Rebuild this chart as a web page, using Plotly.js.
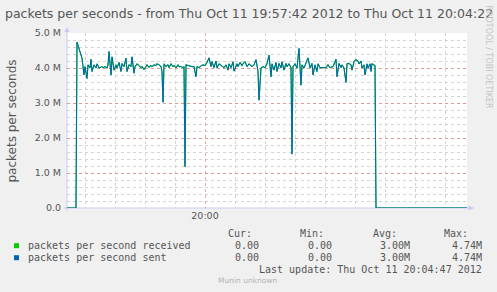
<!DOCTYPE html>
<html>
<head>
<meta charset="utf-8">
<script src="https://cdn.plot.ly/plotly-3.0.1.min.js"></script>
<style>html,body{margin:0;padding:0;background:#f0f0f0;}#chart{width:497px;height:292px;}</style>
</head>
<body>
<div id="chart"></div>
<script>
// ---- data (seconds after 19:57:42, values in millions of packets/s) ----
const seconds = [0,9,10,13,15,17,18,20,21,23,24,25,27,29,30,32,35,36,38,40,41,42,44,45,47,49,50,52,54,55,57,59,60,62,64,65,67,68,70,72,74,75,77,79,80,82,84,85,87,89,90,92,94,95,96,97,99,101,102,104,106,107,109,111,112,114,116,117,118,119,121,123,125,127,129,130,132,134,136,138,140,142,144,145,147,149,150,152,155,157,159,161,162,164,166,167,170,171,173,175,176,178,180,182,185,187,189,191,192,194,196,198,200,202,204,205,207,209,210,212,214,215,217,219,220,222,224,225,226,228,230,232,234,235,237,239,241,243,245,246,248,250,251,253,256,259,261,263,266,267,269,270,272,274,275,277,279,280,282,284,285,287,289,291,292,294,295,297,298,300,301,303,304,305,307,308,309,400];
const received = [0,0,4.74,4.47,4.28,3.80,4.04,3.70,4.09,4.00,4.25,3.90,4.09,4.00,4.12,4.00,4.04,4.01,4.04,4.00,4.09,4.47,3.80,4.32,3.94,4.09,4.00,4.16,3.90,4.13,4.04,4.28,3.90,4.09,4.04,4.32,3.85,4.04,4.12,4.07,4.01,4.04,3.96,4.04,4.09,4.02,4.07,4.04,4.09,4.07,4.12,4.09,4.04,3.90,3.02,4.12,4.04,4.09,4.01,4.12,4.04,4.07,4.01,4.09,4.04,4.04,4.01,4.04,1.18,4.09,4.07,4.04,4.04,4.04,3.75,4.04,4.01,4.06,4.09,4.07,4.16,4.29,4.04,4.18,4.01,4.20,4.00,4.12,4.04,4.01,4.09,3.94,4.12,4.01,4.18,3.91,4.12,4.04,4.16,4.07,4.12,4.18,4.04,4.12,4.04,4.09,4.24,3.90,3.08,4.00,4.04,4.01,4.12,4.37,3.75,4.12,3.94,4.16,3.90,4.13,4.00,4.18,3.94,4.13,4.04,4.12,4.01,1.54,4.04,4.12,4.00,4.56,3.51,4.09,4.00,4.18,4.29,4.00,4.13,3.80,4.09,3.90,4.12,4.01,4.01,4.01,4.09,4.01,4.04,4.13,4.25,3.75,4.13,4.01,4.09,4.00,3.59,4.12,4.13,4.09,3.94,4.18,4.24,4.20,4.12,4.20,4.00,4.09,3.80,4.12,4.00,4.12,3.90,4.12,4.07,4.07,0,0];
const sent = [0,0,4.74,4.47,4.28,3.80,4.04,3.70,4.09,4.00,4.25,3.90,4.09,4.00,4.12,4.00,4.04,4.01,4.04,4.00,4.09,4.47,3.80,4.32,3.94,4.09,4.00,4.16,3.90,4.13,4.04,4.28,3.90,4.09,4.04,4.32,3.85,4.04,4.12,4.07,4.01,4.04,3.96,4.04,4.09,4.02,4.07,4.04,4.09,4.07,4.12,4.09,4.04,3.90,3.02,4.12,4.04,4.09,4.01,4.12,4.04,4.07,4.01,4.09,4.04,4.04,4.01,4.04,1.18,4.09,4.07,4.04,4.04,4.04,3.75,4.04,4.01,4.06,4.09,4.07,4.16,4.29,4.04,4.18,4.01,4.20,4.00,4.12,4.04,4.01,4.09,3.94,4.12,4.01,4.18,3.91,4.12,4.04,4.16,4.07,4.12,4.18,4.04,4.12,4.04,4.09,4.24,3.90,3.08,4.00,4.04,4.01,4.12,4.37,3.75,4.12,3.94,4.16,3.90,4.13,4.00,4.18,3.94,4.13,4.04,4.12,4.01,1.54,4.04,4.12,4.00,4.56,3.51,4.09,4.00,4.18,4.29,4.00,4.13,3.80,4.09,3.90,4.12,4.01,4.01,4.01,4.09,4.01,4.04,4.13,4.25,3.75,4.13,4.01,4.09,4.00,3.59,4.12,4.13,4.09,3.94,4.18,4.24,4.20,4.12,4.20,4.00,4.09,3.80,4.12,4.00,4.12,3.90,4.12,4.07,4.07,0,0];

const seriesNames = ['packets per second received', 'packets per second sent'];
const seriesColors = ['#00cc00', '#0066b3'];
const statHeaders = ['Cur:', 'Min:', 'Avg:', 'Max:'];
const statCur = ['0.00', '0.00'];
const statMin = ['0.00', '0.00'];
const statAvg = ['3.00M', '3.00M'];
const statMax = ['4.74M', '4.74M'];
const yTickVals = [0, 1, 2, 3, 4, 5];
const yTickText = ['0.0', '1.0 M', '2.0 M', '3.0 M', '4.0 M', '5.0 M'];
const titleText = 'packets per seconds - from Thu Oct 11 19:57:42 2012 to Thu Oct 11 20:04:22 2012';
const yTitle = 'packets per seconds';
const lastUpdate = 'Last update: Thu Oct 11 20:04:47 2012';

// ---- helpers ----
const startSec = 19 * 3600 + 57 * 60 + 42;
function pad(n) { return (n < 10 ? '0' : '') + n; }
function ts(s) {
  const a = startSec + s;
  return '2012-10-11 ' + pad(Math.floor(a / 3600)) + ':' + pad(Math.floor(a / 60) % 60) + ':' + pad(a % 60);
}
const times = seconds.map(ts);

const W = 497, H = 292, L = 67, T = 33, PW = 400, PH = 175;
const px = v => (v - L) / PW;
const py = v => (T + PH - v) / PH;

const FONT = 'DejaVu Sans, Verdana, sans-serif';
const MONO = 'DejaVu Sans Mono, monospace';
const TXT = '#555555';
const AXIS = '#c8c8f4';

const traces = [
  { x: times, y: received, type: 'scatter', mode: 'lines', name: seriesNames[0],
    line: { color: seriesColors[0], width: 1.15 }, hoverinfo: 'skip' },
  { x: times, y: sent, type: 'scatter', mode: 'lines', name: seriesNames[1],
    line: { color: seriesColors[1], width: 1 }, hoverinfo: 'skip' }
];

const minorY = [];
for (let v = 0.2; v < 5; v += 0.2) minorY.push(+v.toFixed(1));

const ann = [];
function txt(x, y, text, opts) {
  ann.push(Object.assign({ xref: 'paper', yref: 'paper', x: px(x), y: py(y), text: text,
    showarrow: false, borderpad: 0, xanchor: 'left', yanchor: 'middle',
    font: { family: MONO, size: 10, color: TXT } }, opts || {}));
}
// y-axis title
txt(11, 120.5, yTitle, { xanchor: 'center', textangle: -90, font: { family: FONT, size: 12, color: TXT } });
// rrdtool credit
txt(488, 56.5, 'RRDTOOL / TOBI OETIKER', { xanchor: 'center', textangle: 90, font: { family: FONT, size: 8, color: '#c4c4c4' } });
// legend header
const hdrRight = [252.7, 325, 397.7, 469.3];
statHeaders.forEach((h, i) => txt(hdrRight[i], 233.3, h, { xanchor: 'right' }));
const valRight = [260, 332.7, 411, 483.3];
const rowY = [245.7, 257.7];
const shapes = [];
seriesNames.forEach((n, i) => {
  txt(26.7, rowY[i], n);
  [statCur[i], statMin[i], statAvg[i], statMax[i]].forEach((v, j) => txt(valRight[j], rowY[i], v, { xanchor: 'right' }));
  shapes.push({ type: 'rect', xref: 'paper', yref: 'paper', x0: px(14), x1: px(19), y0: py(rowY[i] + 2.5), y1: py(rowY[i] - 2.5),
    fillcolor: seriesColors[i], line: { width: 0 } });
});
txt(483.3, 269.7, lastUpdate, { xanchor: 'right' });
txt(248.3, 280.7, 'Munin unknown', { xanchor: 'center', font: { family: FONT, size: 7.5, color: '#b4b4b4' } });

// axis lines + arrows
shapes.push({ type: 'line', xref: 'paper', yref: 'paper', x0: px(67), x1: px(67), y0: py(211), y1: py(31), line: { color: AXIS, width: 1 }, layer: 'between' });
shapes.push({ type: 'line', xref: 'paper', yref: 'paper', x0: px(64), x1: px(469), y0: py(208), y1: py(208), line: { color: AXIS, width: 1 }, layer: 'between' });
shapes.push({ type: 'path', xref: 'paper', yref: 'paper',
  path: 'M' + px(64.5) + ',' + py(32) + ' L' + px(69.5) + ',' + py(32) + ' L' + px(67) + ',' + py(27) + ' Z',
  fillcolor: AXIS, line: { width: 0 } });
shapes.push({ type: 'path', xref: 'paper', yref: 'paper',
  path: 'M' + px(468.5) + ',' + py(205.5) + ' L' + px(468.5) + ',' + py(210.5) + ' L' + px(474) + ',' + py(208) + ' Z',
  fillcolor: AXIS, line: { width: 0 } });

const layout = {
  width: W, height: H,
  margin: { l: L, r: W - L - PW, t: T, b: H - T - PH, pad: 0 },
  paper_bgcolor: '#f0f0f0', plot_bgcolor: '#ffffff',
  showlegend: false,
  title: { text: titleText, x: 5 / W, xref: 'container', xanchor: 'left', y: 1 - 13.9 / H, yref: 'container', yanchor: 'middle',
    font: { family: FONT, size: 12.5, color: TXT } },
  xaxis: {
    type: 'date', range: [ts(0), ts(400)], fixedrange: true,
    tick0: '2012-10-11 20:00:00', dtick: 300000, tickformat: '%H:%M', ticks: '',
    tickfont: { family: FONT, size: 9.5, color: TXT },
    showgrid: true, gridcolor: 'rgba(235,110,110,0.6)', griddash: 'dot', gridwidth: 1,
    minor: { tick0: '2012-10-11 19:58:00', dtick: 30000, showgrid: true, gridcolor: '#d4d4d4', griddash: 'dot', ticks: '' },
    zeroline: false, showline: false
  },
  yaxis: {
    range: [0, 5], fixedrange: true,
    tickmode: 'array', tickvals: yTickVals, ticktext: yTickText, ticks: '', ticklabelstandoff: 5,
    tickfont: { family: FONT, size: 9.5, color: TXT },
    showgrid: true, gridcolor: 'rgba(235,110,110,0.6)', griddash: 'dot', gridwidth: 1,
    minor: { tickmode: 'array', tickvals: minorY, showgrid: true, gridcolor: '#d4d4d4', griddash: 'dot', ticks: '' },
    zeroline: false, showline: false
  },
  annotations: ann,
  shapes: shapes
};

Plotly.newPlot('chart', traces, layout, { displayModeBar: false, staticPlot: true });
</script>
</body>
</html>
